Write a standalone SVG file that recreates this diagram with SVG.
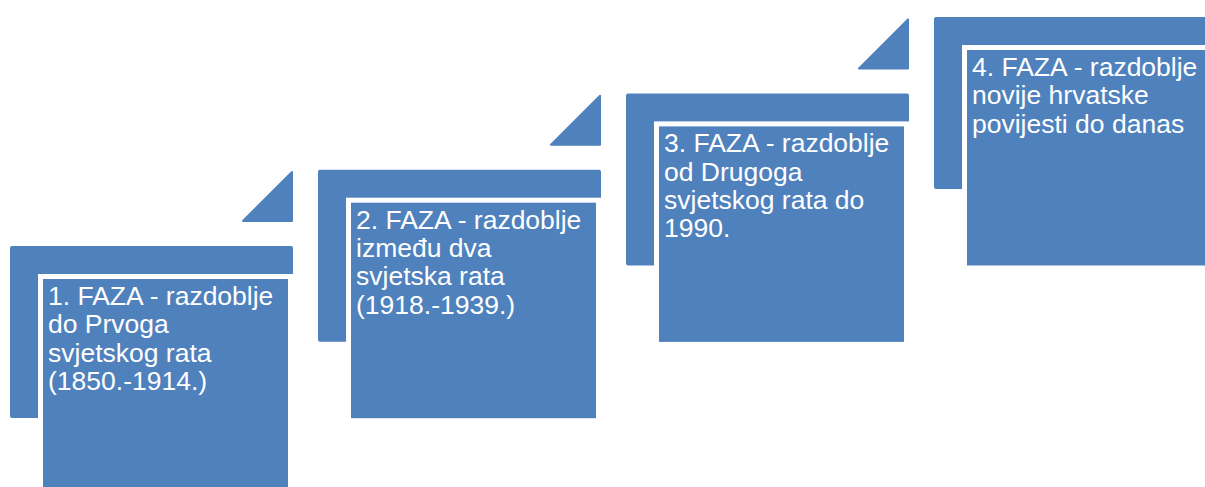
<svg xmlns="http://www.w3.org/2000/svg" width="1205" height="487" viewBox="0 0 1205 487">
<style>
.back{fill:#4F81BD;}
.front{fill:#4F81BD;stroke:#FFFFFF;stroke-width:5;}
.tri{fill:#4F81BD;stroke:#4F81BD;stroke-width:2;stroke-linejoin:round;}
.lbl{font-family:"Liberation Sans",Arial,sans-serif;font-size:26.5px;fill:#FFFFFF;}
</style>
<rect width="1205" height="487" fill="#FFFFFF"/>
<g id="connectors">
<polygon class="tri" points="243,221 292,172 292,221"/>
<polygon class="tri" transform="translate(308,-76.3)" points="243,221 292,172 292,221"/>
<polygon class="tri" transform="translate(616,-152.6)" points="243,221 292,172 292,221"/>
</g>
<g id="step1">
<rect class="back" x="10" y="246" width="283" height="172" rx="2"/>
<rect class="front" x="40.5" y="276.5" width="250" height="220.5"/>
<text class="lbl" x="48"><tspan x="48" y="305">1. FAZA - razdoblje</tspan><tspan x="48" y="333.3">do Prvoga</tspan><tspan x="48" y="361.6">svjetskog rata</tspan><tspan x="48" y="390">(1850.-1914.)</tspan></text>
</g>
<g id="step2" transform="translate(308,-76.3)">
<rect class="back" x="10" y="246" width="283" height="172" rx="2"/>
<rect class="front" x="40.5" y="276.5" width="250" height="220.5"/>
<text class="lbl" x="48"><tspan x="48" y="305">2. FAZA - razdoblje</tspan><tspan x="48" y="333.3">između dva</tspan><tspan x="48" y="361.6">svjetska rata</tspan><tspan x="48" y="390">(1918.-1939.)</tspan></text>
</g>
<g id="step3" transform="translate(616,-152.6)">
<rect class="back" x="10" y="246" width="283" height="172" rx="2"/>
<rect class="front" x="40.5" y="276.5" width="250" height="220.5"/>
<text class="lbl" x="48"><tspan x="48" y="305">3. FAZA - razdoblje</tspan><tspan x="48" y="333.3">od Drugoga</tspan><tspan x="48" y="361.6">svjetskog rata do</tspan><tspan x="48" y="390">1990.</tspan></text>
</g>
<g id="step4" transform="translate(924,-229)">
<rect class="back" x="10" y="246" width="283" height="172" rx="2"/>
<rect class="front" x="40.5" y="276.5" width="250" height="220.5"/>
<text class="lbl" x="48"><tspan x="48" y="305">4. FAZA - razdoblje</tspan><tspan x="48" y="333.3">novije hrvatske</tspan><tspan x="48" y="361.6">povijesti do danas</tspan></text>
</g>
</svg>
